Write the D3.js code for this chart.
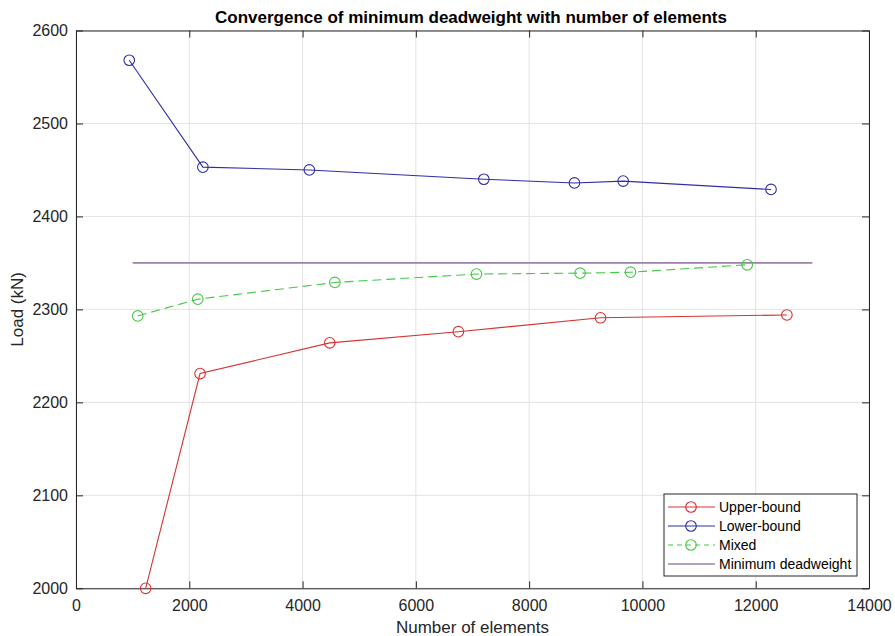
<!DOCTYPE html>
<html>
<head>
<meta charset="utf-8">
<script src="https://cdn.jsdelivr.net/npm/d3@7"></script>
<style>
  html, body { margin: 0; padding: 0; background: #fff; }
  svg { display: block; font-family: "Liberation Sans", Arial, Helvetica, sans-serif; }
</style>
</head>
<body>
<svg id="chart" width="895" height="636"></svg>
<script>
// Number of elements vs. minimum deadweight load (kN)
const upperX = [1230, 2190, 4480, 6750, 9260, 12550];
const upperY = [2000, 2231, 2264, 2276, 2291, 2294];

const lowerX = [940, 2240, 4120, 7200, 8800, 9660, 12270];
const lowerY = [2568, 2453, 2450, 2440, 2436, 2438, 2429];

const mixedX = [1090, 2150, 4570, 7070, 8900, 9790, 11850];
const mixedY = [2293, 2311, 2329, 2338, 2339, 2340, 2348];

const minDeadX = [1000, 13000];
const minDeadY = [2350, 2350];

const xTicks = [0, 2000, 4000, 6000, 8000, 10000, 12000, 14000];
const yTicks = [2000, 2100, 2200, 2300, 2400, 2500, 2600];

const seriesNames = ["Upper-bound", "Lower-bound", "Mixed", "Minimum deadweight"];

const svg = d3.select("#chart");
const plotL = 76, plotR = 869, plotT = 30.5, plotB = 588.3;

const x = d3.scaleLinear().domain([0, 14000]).range([plotL, plotR]);
const y = d3.scaleLinear().domain([2000, 2600]).range([plotB, plotT]);

const axisColor = "#262626";
const gridColor = "#e3e3e3";
const fmt = d3.format("d");

// grid
svg.append("g").selectAll("line").data(xTicks).join("line")
  .attr("x1", d => x(d)).attr("x2", d => x(d))
  .attr("y1", plotT).attr("y2", plotB)
  .attr("stroke", gridColor).attr("stroke-width", 1);
svg.append("g").selectAll("line").data(yTicks).join("line")
  .attr("x1", plotL).attr("x2", plotR)
  .attr("y1", d => y(d)).attr("y2", d => y(d))
  .attr("stroke", gridColor).attr("stroke-width", 1);

// axes with inward ticks
const tickLen = 7;
const xAxisB = d3.axisBottom(x).tickValues(xTicks).tickFormat(fmt).tickSizeInner(-tickLen).tickSizeOuter(0).tickPadding(11);
const xAxisT = d3.axisTop(x).tickValues(xTicks).tickSizeInner(-tickLen).tickSizeOuter(0).tickFormat("");
const yAxisL = d3.axisLeft(y).tickValues(yTicks).tickFormat(fmt).tickSizeInner(-tickLen).tickSizeOuter(0).tickPadding(8);
const yAxisR = d3.axisRight(y).tickValues(yTicks).tickSizeInner(-tickLen).tickSizeOuter(0).tickFormat("");

function styleAxis(g) {
  g.select(".domain").attr("stroke", axisColor).attr("stroke-width", 1);
  g.selectAll(".tick line").attr("stroke", axisColor).attr("stroke-width", 1);
  g.selectAll(".tick text").attr("fill", axisColor).attr("font-size", 16)
    .attr("font-family", "\"Liberation Sans\", Arial, sans-serif");
}

svg.append("g").attr("transform", `translate(0,${plotB})`).call(xAxisB).call(styleAxis);
svg.append("g").attr("transform", `translate(0,${plotT})`).call(xAxisT).call(styleAxis);
svg.append("g").attr("transform", `translate(${plotL},0)`).call(yAxisL).call(styleAxis);
svg.append("g").attr("transform", `translate(${plotR},0)`).call(yAxisR).call(styleAxis);

// series
const series = [
  { name: seriesNames[0], xs: upperX, ys: upperY, color: "#d63333", dash: null, marker: true },
  { name: seriesNames[1], xs: lowerX, ys: lowerY, color: "#2e2ea8", dash: null, marker: true },
  { name: seriesNames[2], xs: mixedX, ys: mixedY, color: "#44c944", dash: "9,5", marker: true },
  { name: seriesNames[3], xs: minDeadX, ys: minDeadY, color: "#9a82ad", dash: null, marker: false }
];

const line = d3.line().x(d => x(d[0])).y(d => y(d[1]));

series.slice().reverse().forEach(s => {
  const pts = s.xs.map((v, i) => [v, s.ys[i]]);
  svg.append("path").datum(pts)
    .attr("d", line)
    .attr("fill", "none")
    .attr("stroke", s.color)
    .attr("stroke-width", s.marker ? 1.1 : 1.6)
    .attr("stroke-dasharray", s.dash);
  if (s.marker) {
    svg.append("g").selectAll("circle").data(pts).join("circle")
      .attr("cx", d => x(d[0])).attr("cy", d => y(d[1]))
      .attr("r", 5.3)
      .attr("fill", "none")
      .attr("stroke", s.color)
      .attr("stroke-width", 1.1);
  }
});

// title and axis labels
svg.append("text")
  .attr("x", 471).attr("y", 23)
  .attr("text-anchor", "middle")
  .attr("font-size", 17).attr("font-weight", "bold")
  .attr("fill", "#000")
  .text("Convergence of minimum deadweight with number of elements");

svg.append("text")
  .attr("x", (plotL + plotR) / 2).attr("y", 633)
  .attr("text-anchor", "middle")
  .attr("font-size", 17).attr("fill", axisColor)
  .text("Number of elements");

svg.append("text")
  .attr("transform", `translate(23,${(plotT + plotB) / 2}) rotate(-90)`)
  .attr("text-anchor", "middle")
  .attr("font-size", 17).attr("fill", axisColor)
  .text("Load (kN)");

// legend
const lg = svg.append("g");
const lx = 664, ly = 494, lw = 193, lh = 82;
lg.append("rect").attr("x", lx).attr("y", ly).attr("width", lw).attr("height", lh)
  .attr("fill", "#fff").attr("stroke", axisColor).attr("stroke-width", 1);
series.forEach((s, i) => {
  const cy = ly + 13 + i * 19;
  lg.append("line")
    .attr("x1", lx + 4).attr("x2", lx + 51)
    .attr("y1", cy).attr("y2", cy)
    .attr("stroke", s.color)
    .attr("stroke-width", s.marker ? 1.1 : 1.4)
    .attr("stroke-dasharray", s.dash ? "5,4" : null);
  if (s.marker) {
    lg.append("circle").attr("cx", lx + 27).attr("cy", cy).attr("r", 5.3)
      .attr("fill", "none").attr("stroke", s.color).attr("stroke-width", 1.1);
  }
  lg.append("text")
    .attr("x", lx + 55).attr("y", cy + 5)
    .attr("font-size", 14).attr("fill", "#000")
    .text(s.name);
});
</script>
</body>
</html>
